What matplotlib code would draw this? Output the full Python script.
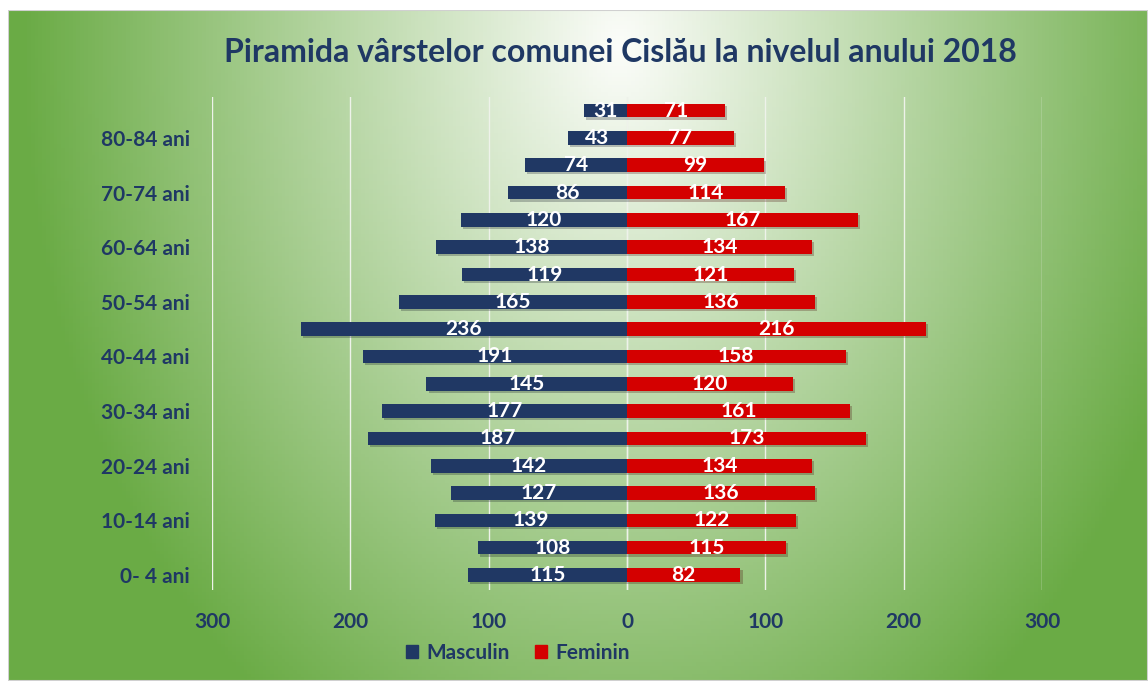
import matplotlib
matplotlib.use("Agg")
import matplotlib.pyplot as plt
import matplotlib.patheffects as pe
from matplotlib.patches import Patch, Rectangle
import numpy as np

plt.rcParams['font.family'] = ['Lato', 'DejaVu Sans']

# age groups, bottom to top
grupe = ['0- 4 ani', '5-9 ani', '10-14 ani', '15-19 ani', '20-24 ani', '25-29 ani',
         '30-34 ani', '35-39 ani', '40-44 ani', '45-49 ani', '50-54 ani', '55-59 ani',
         '60-64 ani', '65-69 ani', '70-74 ani', '75-79 ani', '80-84 ani', '85+ ani']
masculin = [115, 108, 139, 127, 142, 187, 177, 145, 191, 236, 165, 119, 138, 120, 86, 74, 43, 31]
feminin = [82, 115, 122, 136, 134, 173, 161, 120, 158, 216, 136, 121, 134, 167, 114, 99, 77, 71]
x_ticks = [-300, -200, -100, 0, 100, 200, 300]

NAVY = '#1F3864'
BLUE_BAR = '#203864'
RED_BAR = '#D40000'

W, H = 1148, 681
fig = plt.figure(figsize=(W / 100, H / 100), dpi=100)
fig.patch.set_facecolor('white')

# background with elliptical gradient
bx0, by1 = 8 / W, 1 - 10 / H
bg = fig.add_axes([bx0, 0, 1 - bx0, by1])
bg.set_axis_off()
nx, ny = 300, 180
xs = np.linspace(8, W, nx)
ys = np.linspace(10, H, ny)
X, Y = np.meshgrid(xs, ys)
r = np.sqrt(((X - 620) / 600) ** 2 + ((Y - 45) / 820) ** 2)
t = np.clip(r, 0, 1) ** 1.0
c0 = np.array([252, 253, 250]) / 255
c1 = np.array([106, 171, 69]) / 255
img = c0[None, None, :] * (1 - t[..., None]) + c1[None, None, :] * t[..., None]
bg.imshow(img, aspect='auto', extent=[0, 1, 0, 1], origin='upper')
bg.set_xlim(0, 1)
bg.set_ylim(0, 1)
bg.add_patch(Rectangle((0, 0), 1, 1, transform=bg.transAxes, fill=False,
                       edgecolor='#d0d0d0', lw=1.5))

ax = fig.add_axes([212 / W, 1 - 590 / H, (1042 - 212) / W, (590 - 97) / H])
ax.set_facecolor('none')
y = np.arange(len(grupe))
m = np.array(masculin)
f = np.array(feminin)

shadow = [pe.SimplePatchShadow(offset=(1.5, -1.5), alpha=0.25), pe.Normal()]
bars_m = ax.barh(y, -m, height=0.5, color=BLUE_BAR, label='Masculin', zorder=3)
bars_f = ax.barh(y, f, height=0.5, color=RED_BAR, label='Feminin', zorder=3)
for b in list(bars_m) + list(bars_f):
    b.set_path_effects(shadow)

for yi, v in zip(y, m):
    ax.text(-v / 2, yi, str(v), ha='center', va='center', color='white',
            fontsize=15, fontweight='bold', zorder=4)
for yi, v in zip(y, f):
    ax.text(v / 2, yi, str(v), ha='center', va='center', color='white',
            fontsize=15, fontweight='bold', zorder=4)

ax.set_xlim(-300, 300)
ax.set_ylim(-0.55, 17.5)
ax.set_xticks(x_ticks)
ax.set_xticklabels([str(abs(v)) for v in x_ticks])
ax.set_yticks(y[::2])
ax.set_yticklabels(grupe[::2])
ax.tick_params(length=0, labelsize=15, labelcolor=NAVY)
ax.tick_params(axis='y', pad=16)
ax.tick_params(axis='x', pad=16)
for lbl in ax.get_xticklabels() + ax.get_yticklabels():
    lbl.set_fontweight('bold')
ax.grid(axis='x', color='#eef2ea', lw=1.0, zorder=0)
ax.axvline(0, color='#eef2ea', lw=1.0, zorder=2)
for s in ax.spines.values():
    s.set_visible(False)

fig.text(620 / W, 1 - 53 / H, 'Piramida vârstelor comunei Cislău la nivelul anului 2018',
         ha='center', va='center', fontsize=23, fontweight='bold', color=NAVY)

handles = [Patch(color=BLUE_BAR, label='Masculin'), Patch(color=RED_BAR, label='Feminin')]
leg = fig.legend(handles=handles, loc='center', bbox_to_anchor=(518 / W, 1 - 653 / H),
                 ncol=2, frameon=False, handlelength=0.6, handleheight=0.6,
                 handletextpad=0.4, columnspacing=1.2,
                 prop={'size': 15, 'weight': 'bold'})
for txt in leg.get_texts():
    txt.set_color(NAVY)

fig.savefig('out.png', dpi=100)
